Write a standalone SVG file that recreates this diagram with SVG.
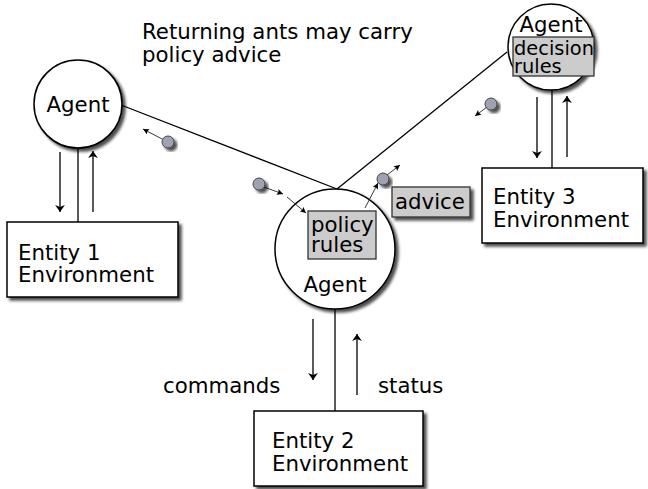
<svg xmlns="http://www.w3.org/2000/svg" width="648" height="489" viewBox="0 0 648 489">
  <style>
    text { font-family: "DejaVu Sans", "Liberation Sans", sans-serif; font-size: 21.3px; fill: #000; }
    .mid { text-anchor: middle; }
    .tight { font-size: 19.4px; }
    .node { fill: #fff; stroke: #000; stroke-width: 1.5; }
    .rules { fill: #cccccc; stroke: #333; stroke-width: 1.3; }
    .link { stroke: #000; stroke-width: 1.3; fill: none; }
    .flow { stroke: #000; stroke-width: 1.3; fill: none; marker-end: url(#bigHead); }
    .hop { stroke: #222; stroke-width: 0.9; fill: none; marker-end: url(#smallHead); }
    .ant { fill: #9ea2b3; stroke: #444; stroke-width: 1; filter: url(#shadow); }
  </style>
  <defs>
    <filter id="shadow" x="-30%" y="-30%" width="160%" height="160%">
      <feGaussianBlur in="SourceAlpha" stdDeviation="1.5"/>
      <feOffset dx="2.5" dy="2.5" result="off"/>
      <feComponentTransfer><feFuncA type="linear" slope="0.7"/></feComponentTransfer>
      <feMerge><feMergeNode/><feMergeNode in="SourceGraphic"/></feMerge>
    </filter>
    <marker id="bigHead" viewBox="0 0 10 20" refX="10" refY="10" markerWidth="7" markerHeight="14" markerUnits="userSpaceOnUse" orient="auto">
      <path d="M0,3 L10,10 L0,17 L3,10 Z" fill="#000"/>
    </marker>
    <marker id="smallHead" viewBox="0 0 10 10" refX="10" refY="5" markerWidth="7" markerHeight="6" markerUnits="userSpaceOnUse" orient="auto">
      <path d="M0,0 L10,5 L0,10 L2,5 Z" fill="#000"/>
    </marker>
  </defs>

  <text x="142" y="39">Returning ants may carry</text>
  <text x="142" y="62">policy advice</text>

  <!-- connectors -->
  <g id="connectors">
    <line class="link" x1="121" y1="105" x2="337" y2="189"/>
    <line class="link" x1="337" y1="189" x2="507" y2="52"/>
    <line class="link" x1="78" y1="148" x2="78" y2="222"/>
    <line class="link" x1="552" y1="90" x2="552" y2="168"/>
    <line class="link" x1="335" y1="309" x2="335" y2="411"/>

    <line class="flow" x1="60" y1="152" x2="60" y2="212"/>
    <line class="flow" x1="93" y1="212" x2="93" y2="151"/>
    <line class="flow" x1="537" y1="97" x2="537" y2="158"/>
    <line class="flow" x1="567" y1="157" x2="567" y2="96"/>
    <line class="flow" x1="313" y1="319" x2="313" y2="380"/>
    <line class="flow" x1="357" y1="395" x2="357" y2="334"/>

    <text x="163" y="393">commands</text>
    <text x="378" y="393">status</text>
  </g>

  <g id="agent1">
    <circle class="node" cx="78" cy="104" r="44" filter="url(#shadow)"/>
    <text class="mid" x="78" y="112">Agent</text>
  </g>

  <g id="agent2">
    <circle class="node" cx="335" cy="249" r="60" filter="url(#shadow)"/>
    <rect class="rules" x="308" y="211" width="68" height="48"/>
    <text x="311" y="232">policy</text>
    <text x="311" y="252">rules</text>
    <text class="mid" x="335" y="292">Agent</text>
  </g>

  <g id="agent3">
    <circle class="node" cx="551" cy="47" r="43" filter="url(#shadow)"/>
    <text class="mid" x="551" y="32">Agent</text>
    <rect class="rules" x="513" y="37" width="81" height="39"/>
    <text class="tight" x="514" y="55">decision</text>
    <text class="tight" x="514" y="73">rules</text>
  </g>

  <g id="advice">
    <rect class="rules" x="392" y="187" width="78" height="30" filter="url(#shadow)"/>
    <text x="395" y="209">advice</text>
  </g>

  <g id="entity1">
    <rect class="node" x="7" y="222" width="171" height="75" filter="url(#shadow)"/>
    <text x="18" y="260">Entity 1</text>
    <text x="18" y="282">Environment</text>
  </g>

  <g id="entity2">
    <rect class="node" x="254" y="411" width="169" height="75" filter="url(#shadow)"/>
    <text x="272" y="448">Entity 2</text>
    <text x="272" y="471">Environment</text>
  </g>

  <g id="entity3">
    <rect class="node" x="482" y="168" width="161" height="75" filter="url(#shadow)"/>
    <text x="493" y="204">Entity 3</text>
    <text x="493" y="227">Environment</text>
  </g>

  <!-- ants travelling between agents -->
  <g id="ants">
    <line class="hop" x1="164" y1="140" x2="143" y2="129"/>
    <circle class="ant" cx="168" cy="142" r="6"/>

    <line class="hop" x1="264" y1="187" x2="283" y2="194"/>
    <line class="hop" x1="287" y1="197" x2="306" y2="213"/>
    <circle class="ant" cx="259" cy="184" r="6"/>

    <line class="hop" x1="365" y1="208" x2="378" y2="183"/>
    <line class="hop" x1="387" y1="175" x2="400" y2="165"/>
    <circle class="ant" cx="383" cy="179" r="6"/>

    <line class="hop" x1="487" y1="107" x2="475" y2="116"/>
    <circle class="ant" cx="491" cy="104" r="6"/>
  </g>
</svg>
